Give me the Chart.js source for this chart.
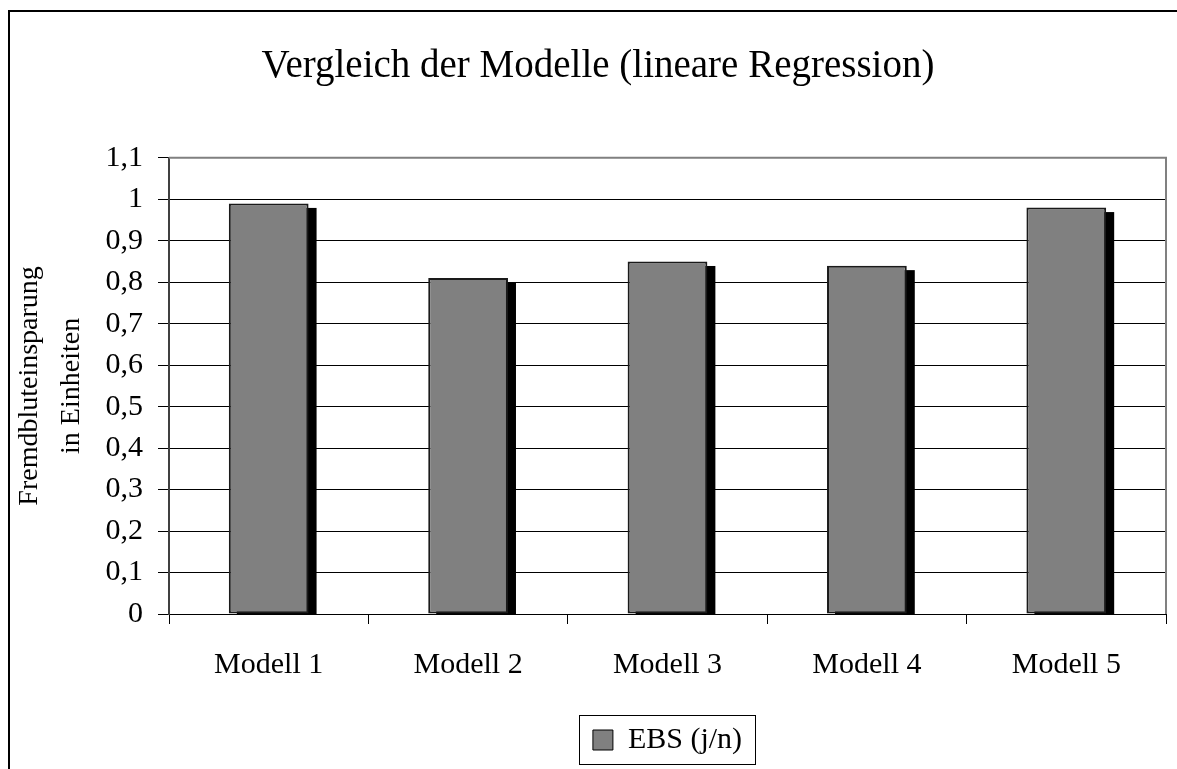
<!DOCTYPE html>
<html>
<head>
<meta charset="utf-8">
<script src="https://cdn.jsdelivr.net/npm/chart.js@4/dist/chart.umd.min.js"></script>
<style>
  html, body { margin: 0; padding: 0; background: #fff; }
  #wrap { width: 1177px; height: 769px; }
</style>
</head>
<body>
<div id="wrap"><canvas id="c" width="1177" height="769"></canvas></div>
<script>
const categories = ['Modell 1', 'Modell 2', 'Modell 3', 'Modell 4', 'Modell 5'];
const seriesLabel = 'EBS (j/n)';
const seriesValues = [0.99, 0.81, 0.85, 0.84, 0.98];
const yTickLabels = ['0', '0,1', '0,2', '0,3', '0,4', '0,5', '0,6', '0,7', '0,8', '0,9', '1', '1,1'];
const chartTitle = 'Vergleich der Modelle (lineare Regression)';
const yAxisTitle = ['Fremdbluteinsparung', 'in Einheiten'];

const FONT = "'Liberation Serif', 'Times New Roman', serif";

const decorPlugin = {
  id: 'decor',
  beforeDatasetsDraw(chart) {
    const {ctx, chartArea: a} = chart;
    ctx.save();
    ctx.strokeStyle = '#808080';
    ctx.lineWidth = 2;
    ctx.beginPath();
    ctx.moveTo(a.left, a.top);
    ctx.lineTo(a.right, a.top);
    ctx.lineTo(a.right, a.bottom);
    ctx.stroke();
    const meta = chart.getDatasetMeta(0);
    const yScale = chart.scales.y;
    const base = yScale.getPixelForValue(0);
    ctx.fillStyle = '#000';
    meta.data.forEach(bar => {
      const w = bar.width;
      const x0 = bar.x - w / 2 + 8;
      const y0 = bar.y + 4.5;
      ctx.fillRect(x0, y0, w, base - y0);
    });
    ctx.restore();
  },
  afterDraw(chart) {
    const {ctx} = chart;
    ctx.save();
    ctx.strokeStyle = '#000';
    ctx.lineWidth = 2;
    ctx.beginPath();
    ctx.moveTo(9, 769);
    ctx.lineTo(9, 11);
    ctx.lineTo(1177, 11);
    ctx.stroke();
    const lg = chart.legend;
    if (lg && lg.legendHitBoxes && lg.legendHitBoxes.length) {
      const hb = lg.legendHitBoxes[0];
      const cy = hb.top + hb.height / 2;
      ctx.strokeStyle = '#000';
      ctx.lineWidth = 1;
      ctx.strokeRect(Math.round(hb.left - 14) + 0.5, Math.round(cy - 25.5) + 0.5, Math.round(hb.width + 27), 49);
    }
    ctx.restore();
  }
};

new Chart(document.getElementById('c'), {
  type: 'bar',
  data: {
    labels: categories,
    datasets: [{
      label: seriesLabel,
      data: seriesValues,
      backgroundColor: '#808080',
      borderColor: '#1a1a1a',
      borderWidth: 2,
      borderSkipped: false,
      barPercentage: 0.8,
      categoryPercentage: 0.5
    }]
  },
  options: {
    responsive: false,
    devicePixelRatio: 1,
    animation: false,
    layout: { padding: { left: 30, right: 11, top: 0, bottom: 4 } },
    plugins: {
      title: {
        display: true,
        text: chartTitle,
        color: '#000',
        font: { family: FONT, size: 39, weight: 'normal', lineHeight: 1.2 },
        padding: { top: 43, bottom: 68 }
      },
      legend: {
        display: true,
        position: 'bottom',
        fullSize: false,
        labels: {
          color: '#000',
          font: { family: FONT, size: 30 },
          boxWidth: 20,
          boxHeight: 20,
          padding: 10,
          generateLabels(chart) {
            return [{
              text: seriesLabel,
              fillStyle: '#808080',
              strokeStyle: '#000',
              lineWidth: 1,
              hidden: false,
              datasetIndex: 0
            }];
          }
        }
      },
      tooltip: { enabled: false }
    },
    scales: {
      x: {
        offset: true,
        grid: {
          display: true,
          offset: true,
          drawOnChartArea: false,
          drawTicks: true,
          tickLength: 10,
          color: '#000',
          tickColor: '#000',
          lineWidth: 1
        },
        border: { display: true, color: '#000', width: 1 },
        ticks: {
          color: '#000',
          font: { family: FONT, size: 30 },
          padding: 23,
          maxRotation: 0,
          autoSkip: false
        },
        afterFit(scale) { scale.height = 101; }
      },
      y: {
        min: 0,
        max: 1.1,
        grid: {
          color: (ctx) => (ctx.tick && ctx.tick.value > 1.05 ? 'rgba(0,0,0,0)' : '#000'),
          tickColor: '#000',
          lineWidth: 1,
          drawTicks: true,
          tickLength: 11
        },
        border: { display: true, color: '#404040', width: 2 },
        ticks: {
          stepSize: 0.1,
          color: '#000',
          font: { family: FONT, size: 30 },
          padding: 15,
          callback: (value, index) => yTickLabels[index]
        },
        title: {
          display: true,
          text: yAxisTitle,
          color: '#000',
          font: { family: FONT, size: 28, lineHeight: 1.5 },
          padding: { top: -21, bottom: 0 }
        },
        afterFit(scale) { scale.width = 139; }
      }
    }
  },
  plugins: [decorPlugin]
});
</script>
</body>
</html>
